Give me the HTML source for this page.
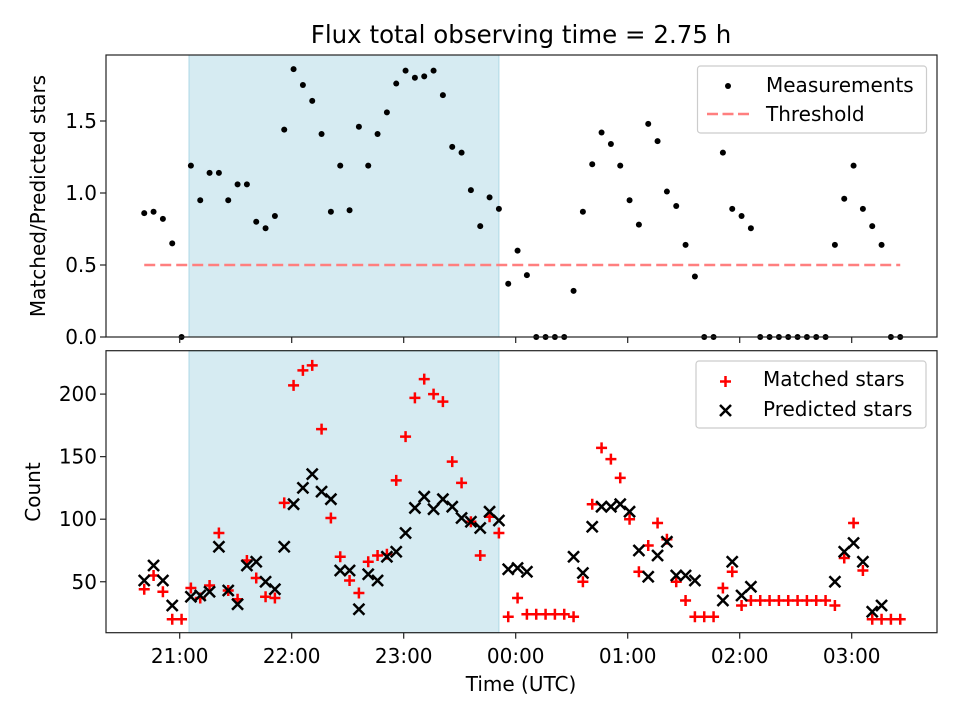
<!DOCTYPE html>
<html><head><meta charset="utf-8">
<style>
html,body{margin:0;padding:0;background:#fff;}
svg{display:block;font-family:"DejaVu Sans","Liberation Sans",sans-serif;}
</style></head>
<body>
<svg id="chart" width="960" height="720" viewBox="0 0 960 720" xmlns="http://www.w3.org/2000/svg">
<rect width="960" height="720" fill="#fff"/>
<text x="521" y="43" font-size="24.5" text-anchor="middle" fill="#000">Flux total observing time = 2.75 h</text>
<g id="topPanel"></g>
<g id="bottomPanel"></g>
</svg>
<script>
// minutes after 21:00 UTC
const times = [-19,-14,-9,-4,1,6,11,16,21,26,31,36,41,46,51,56,61,66,71,76,81,86,91,96,101,106,111,116,121,126,131,136,141,146,151,156,161,166,171,176,181,186,191,196,201,206,211,216,221,226,231,236,241,246,251,256,261,266,271,276,281,286,291,296,301,306,311,316,321,326,331,336,341,346,351,356,361,366,371,376,381,386];
const ratio = [0.86,0.87,0.82,0.65,0,1.19,0.95,1.14,1.14,0.95,1.06,1.06,0.80,0.755,0.84,1.44,1.86,1.75,1.64,1.41,0.87,1.19,0.88,1.46,1.19,1.41,1.56,1.76,1.85,1.80,1.81,1.85,1.68,1.32,1.28,1.02,0.77,0.97,0.89,0.37,0.60,0.43,0,0,0,0,0.32,0.87,1.20,1.42,1.34,1.19,0.95,0.78,1.48,1.36,1.01,0.91,0.64,0.42,0,0,1.28,0.89,0.84,0.755,0,0,0,0,0,0,0,0,0.64,0.96,1.19,0.89,0.77,0.64,0,0];
const matched = [44,55,42,20,20,45,37,47,89,43,36,67,53,38,37,113,207,219,223,172,101,70,51,41,66,71,72,131,166,197,212,200,194,146,129,98,71,102,89,22,37,24,24,24,24,24,22,50,112,157,148,133,100,58,79,97,84,50,35,22,22,22,45,58,31,35,35,35,35,35,35,35,35,35,31,69,97,59,20,20,20,20];
const predicted = [51,63,51,31,null,38,39,42,78,43,32,63,66,50,44,78,112,125,136,122,116,59,59,28,56,51,70,74,89,109,118,108,116,110,101,98,93,106,99,60,61,58,null,null,null,null,70,57,94,110,110,112,106,75,54,71,82,55,55,51,null,null,35,66,39,46,null,null,null,null,null,null,null,null,50,74,81,66,26,31,null,null];
const threshold = [0.5];
const threshSpan = [-19,386];
const shadeSpan = [5,171];
const topTicks = [0,0.5,1.0,1.5];
const topTickLabels = ["0.0","0.5","1.0","1.5"];
const botTicks = [50,100,150,200];
const xTicks = [0,60,120,180,240,300,360];
const xTickLabels = ["21:00","22:00","23:00","00:00","01:00","02:00","03:00"];

const NS="http://www.w3.org/2000/svg";
function mk(parent,tag,attrs){const e=document.createElementNS(NS,tag);for(const k in attrs)e.setAttribute(k,attrs[k]);parent.appendChild(e);return e;}
const L=106,R=937;
const FS=20;
function xs(m){return 179.7+(m/60)*112;}
const T1={t:55,b:337};
function y1(v){return 337-v*144;}
const T2={t:350.7,b:632.7};
function y2(v){return 644.3-v*1.251;}

function panel(g,P,name){
  let sh=mk(g,'rect',{x:xs(shadeSpan[0]),y:P.t,width:xs(shadeSpan[1])-xs(shadeSpan[0]),height:P.b-P.t,fill:'#add8e6','fill-opacity':0.5,stroke:'#add8e6','stroke-width':1});
  
  
}
function frame(g,P,name){
  let f=mk(g,'rect',{x:L,y:P.t,width:R-L,height:P.b-P.t,fill:'none',stroke:'#222','stroke-width':1.2});
  
  
  xTicks.forEach((m,i)=>{
    let t=mk(g,'line',{x1:xs(m),x2:xs(m),y1:P.b,y2:P.b+6,stroke:'#222','stroke-width':1.2});
    
    
  });
}
const topG=document.getElementById('topPanel');
const botG=document.getElementById('bottomPanel');
panel(topG,T1,'top');
panel(botG,T2,'bottom');

let th=mk(topG,'line',{x1:xs(threshSpan[0]),x2:xs(threshSpan[1]),y1:y1(threshold[0]),y2:y1(threshold[0]),stroke:'#ff7f7f','stroke-width':2.5,'stroke-dasharray':'11,5'});


times.forEach((m,i)=>{
  let c=mk(topG,'circle',{cx:xs(m),cy:y1(ratio[i]),r:3,fill:'#000'});
  
  
});
times.forEach((m,i)=>{
  const x=xs(m);
  if(matched[i]!==null && matched[i]>10.3){
    const y=y2(matched[i]);
    let p=mk(botG,'path',{d:`M${x-5.5},${y}H${x+5.5}M${x},${y-5.5}V${y+5.5}`,stroke:'#ff0000','stroke-width':2.5});
    
    
  }
});
times.forEach((m,i)=>{
  const x=xs(m);
  if(predicted[i]!==null && predicted[i]>10.3){
    const y=y2(predicted[i]);
    let p=mk(botG,'path',{d:`M${x-5.5},${y-5.5}L${x+5.5},${y+5.5}M${x-5.5},${y+5.5}L${x+5.5},${y-5.5}`,stroke:'#000','stroke-width':2.5});
    
    
  }
});
frame(topG,T1,'top');
frame(botG,T2,'bottom');

topTicks.forEach((v,i)=>{
  const y=y1(v);
  let t=mk(topG,'line',{x1:L-6,x2:L,y1:y,y2:y,stroke:'#222','stroke-width':1.2});
  
  
  let tx=mk(topG,'text',{x:L-9,y:y+7,'font-size':FS,'text-anchor':'end',fill:'#000'});
  tx.textContent=topTickLabels[i];
  
  
});
botTicks.forEach((v,i)=>{
  const y=y2(v);
  let t=mk(botG,'line',{x1:L-6,x2:L,y1:y,y2:y,stroke:'#222','stroke-width':1.2});
  
  
  let tx=mk(botG,'text',{x:L-9,y:y+7,'font-size':FS,'text-anchor':'end',fill:'#000'});
  tx.textContent=String(v);
  
  
});
xTicks.forEach((m,i)=>{
  let tx=mk(botG,'text',{x:xs(m),y:663,'font-size':FS,'text-anchor':'middle',fill:'#000'});
  tx.textContent=xTickLabels[i];
  
  
});
let yt1=mk(topG,'text',{x:0,y:0,'font-size':FS,'text-anchor':'middle',fill:'#000',transform:'translate(45,196) rotate(-90)'});
yt1.textContent='Matched/Predicted stars';


let yt2=mk(botG,'text',{x:0,y:0,'font-size':FS,'text-anchor':'middle',fill:'#000',transform:'translate(40,492) rotate(-90)'});
yt2.textContent='Count';


let xt=mk(botG,'text',{x:521,y:691,'font-size':FS,'text-anchor':'middle',fill:'#000'});
xt.textContent='Time (UTC)';



let lg1=mk(topG,'g',{});


mk(lg1,'rect',{x:697.5,y:66,width:229,height:67,rx:3,fill:'#fff','fill-opacity':0.8,stroke:'#ccc','stroke-width':1.2});
mk(lg1,'circle',{cx:728,cy:86,r:3,fill:'#000'});
let l1=mk(lg1,'text',{x:766,y:92,'font-size':FS,fill:'#000'});l1.textContent='Measurements';


mk(lg1,'line',{x1:707,x2:749,y1:114,y2:114,stroke:'#ff7f7f','stroke-width':2.5,'stroke-dasharray':'11,4.5'});
let l2=mk(lg1,'text',{x:766,y:121,'font-size':FS,fill:'#000'});l2.textContent='Threshold';



let lg2=mk(botG,'g',{});


mk(lg2,'rect',{x:696,y:361,width:230,height:67,rx:3,fill:'#fff','fill-opacity':0.8,stroke:'#ccc','stroke-width':1.2});
mk(lg2,'path',{d:'M720,381.5H731M725.5,376V387',stroke:'#ff0000','stroke-width':2.5});
let l3=mk(lg2,'text',{x:763,y:386,'font-size':FS,fill:'#000'});l3.textContent='Matched stars';


mk(lg2,'path',{d:'M720,405L731,416M720,416L731,405',stroke:'#000','stroke-width':2.5});
let l4=mk(lg2,'text',{x:763,y:416,'font-size':FS,fill:'#000'});l4.textContent='Predicted stars';


</script>
</body></html>
